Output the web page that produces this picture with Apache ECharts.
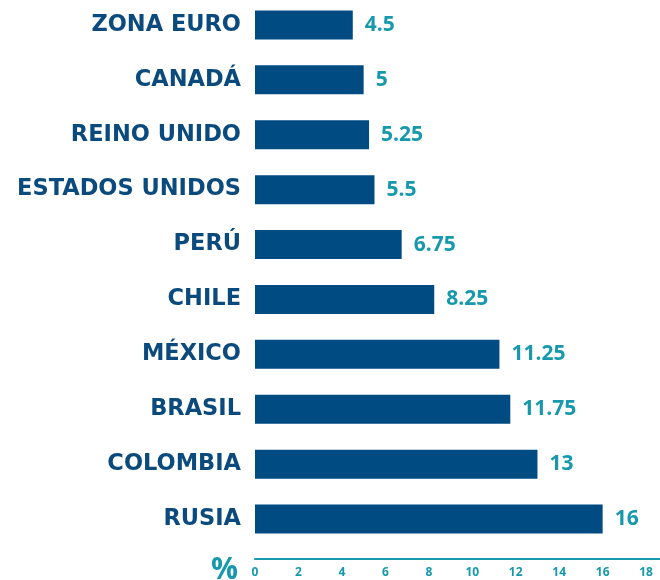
<!DOCTYPE html>
<html>
<head>
<meta charset="utf-8">
<script src="https://cdn.jsdelivr.net/npm/echarts@6/dist/echarts.min.js"></script>
<style>
  html, body { margin: 0; padding: 0; background: #fff; }
  #chart { width: 660px; height: 580px; }
</style>
</head>
<body>
<div id="chart"></div>
<script>
const paises = ['ZONA EURO', 'CANADÁ', 'REINO UNIDO', 'ESTADOS UNIDOS', 'PERÚ', 'CHILE', 'MÉXICO', 'BRASIL', 'COLOMBIA', 'RUSIA']
const tasas = [4.5, 5, 5.25, 5.5, 6.75, 8.25, 11.25, 11.75, 13, 16]
const ticks = [0, 2, 4, 6, 8, 10, 12, 14, 16, 18]

const navy = '#004b82'
const teal = '#1799ad'
const fuente = 'Open Sans'

const chart = echarts.init(document.getElementById('chart'))
chart.setOption({
    animation: false,
    grid: { left: 255, right: 0, top: -2.5, height: 549, containLabel: false, outerBoundsMode: 'none' },
    xAxis: {
        type: 'value',
        min: 0,
        max: 18.64,
        interval: 2,
        name: '%',
        nameLocation: 'start',
        nameGap: 17,
        nameTextStyle: {
            color: teal, fontSize: 30, fontWeight: 'bold', fontFamily: fuente,
            verticalAlign: 'top', padding: [-3, 0, 0, 0]
        },
        axisLine: { show: true, onZero: false, lineStyle: { color: teal, width: 2 } },
        axisTick: { show: false },
        splitLine: { show: false },
        offset: 12,
        axisLabel: {
            color: teal, fontSize: 12, fontWeight: 'bold', fontFamily: fuente,
            margin: 8, showMaxLabel: false,
            formatter: v => ticks.includes(v) ? String(v) : ''
        }
    },
    yAxis: {
        type: 'category',
        data: paises,
        inverse: true,
        axisLine: { show: false },
        axisTick: { show: false },
        axisLabel: {
            color: '#0b4a7d', fontSize: 22.5, fontWeight: 'bold', fontFamily: 'DejaVu Sans', margin: 14
        }
    },
    series: [{
        type: 'bar',
        data: tasas,
        barWidth: 29,
        itemStyle: { color: navy },
        label: {
            show: true,
            position: 'right',
            distance: 12,
            color: teal,
            fontSize: 21,
            fontWeight: 'bold',
            fontFamily: fuente
        }
    }]
})
</script>
</body>
</html>
